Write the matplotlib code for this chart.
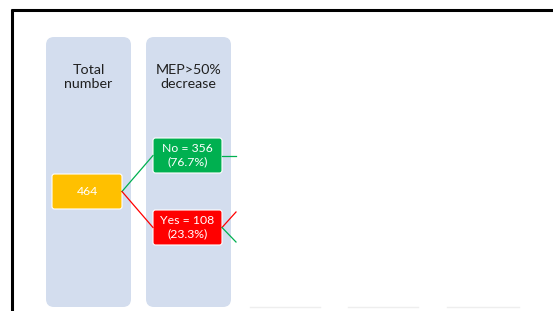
import matplotlib.pyplot as plt
from matplotlib.patches import FancyBboxPatch

# 資料
column_titles = ['Total\nnumber', 'MEP>50%\ndecrease']
total_n = 464
group_labels = ['No', 'Yes']
group_counts = [356, 108]
group_colors = ['#00b050', '#ff0000']

plt.rcParams['font.family'] = ['Lato', 'DejaVu Sans']

fig = plt.figure(figsize=(5.53, 3.11), dpi=100)
ax = fig.add_axes([0, 0, 1, 1])
ax.set_xlim(0, 553)
ax.set_ylim(311, 0)
ax.axis('off')

# 外框
ax.plot([12, 12], [311, 9], color='black', lw=2.2, solid_capstyle='butt')
ax.plot([11, 553], [9.5, 9.5], color='black', lw=2.2, solid_capstyle='butt')

# 欄位背景
col_x = [46, 146]
for x0, title in zip(col_x, column_titles):
    ax.add_patch(FancyBboxPatch((x0, 37), 85, 270, boxstyle='round,pad=0,rounding_size=8',
                                fc='#d3ddee', ec='none'))
    ax.text(x0 + 42.5, 77, title, ha='center', va='center', fontsize=10.3,
            color='#202020', linespacing=1.2)

# 盒子
def box(x0, y0, w, h, color, text):
    ax.add_patch(FancyBboxPatch((x0, y0), w, h, boxstyle='round,pad=0,rounding_size=2.5',
                                fc=color, ec='white', lw=0.8))
    ax.text(x0 + w / 2, y0 + h / 2, text, ha='center', va='center', fontsize=8.8,
            color='white', linespacing=1.25)

box(52, 174, 70, 35, '#ffc000', str(total_n))
group_y = [138, 210]
for lab, n, c, y0 in zip(group_labels, group_counts, group_colors, group_y):
    pct = n / total_n * 100
    box(153, y0, 69, 35, c, f'{lab} = {n}\n({pct:.1f}%)')
    ax.plot([122, 153], [191.5, y0 + 17.5], color=c, lw=0.9)

# 右側分支
ax.plot([222, 236], [156, 156], color='#00b050', lw=0.9)
ax.plot([222, 236], [227.5, 212], color='#ff0000', lw=0.9)
ax.plot([222, 236], [227.5, 242], color='#00b050', lw=0.9)

# 底部淡線
for xa, xb in [(250, 320), (348, 418), (447, 519)]:
    ax.plot([xa, xb], [307, 307], color='#eeeeee', lw=1)

fig.savefig('out.png', dpi=100)
